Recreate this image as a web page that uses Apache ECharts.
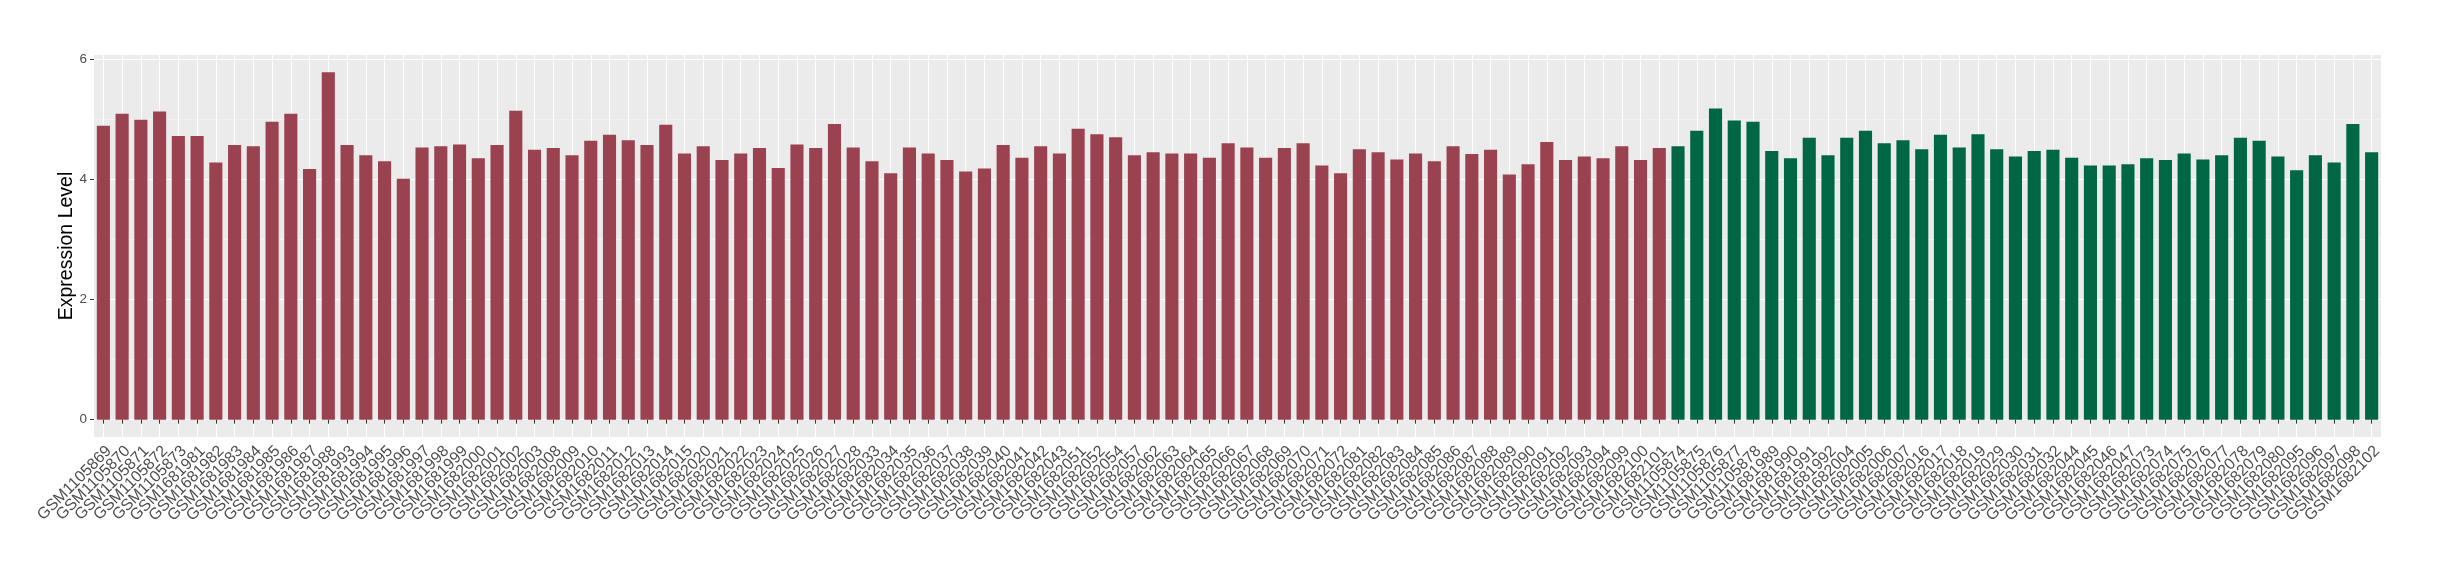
<!DOCTYPE html>
<html>
<head>
<meta charset="utf-8">
<script src="https://cdn.jsdelivr.net/npm/echarts@6/dist/echarts.min.js"></script>
<style>
  html, body { margin: 0; padding: 0; background: #fff; }
  #chart { width: 2440px; height: 580px; }
</style>
</head>
<body>
<div id="chart"></div>
<script>
// group 1 (red)
const redSamples = [
  'GSM1105869','GSM1105870','GSM1105871','GSM1105872','GSM1105873','GSM1681981','GSM1681982','GSM1681983',
  'GSM1681984','GSM1681985','GSM1681986','GSM1681987','GSM1681988','GSM1681993','GSM1681994','GSM1681995',
  'GSM1681996','GSM1681997','GSM1681998','GSM1681999','GSM1682000','GSM1682001','GSM1682002','GSM1682003',
  'GSM1682008','GSM1682009','GSM1682010','GSM1682011','GSM1682012','GSM1682013','GSM1682014','GSM1682015',
  'GSM1682020','GSM1682021','GSM1682022','GSM1682023','GSM1682024','GSM1682025','GSM1682026','GSM1682027',
  'GSM1682028','GSM1682033','GSM1682034','GSM1682035','GSM1682036','GSM1682037','GSM1682038','GSM1682039',
  'GSM1682040','GSM1682041','GSM1682042','GSM1682043','GSM1682051','GSM1682052','GSM1682054','GSM1682057',
  'GSM1682062','GSM1682063','GSM1682064','GSM1682065','GSM1682066','GSM1682067','GSM1682068','GSM1682069',
  'GSM1682070','GSM1682071','GSM1682072','GSM1682081','GSM1682082','GSM1682083','GSM1682084','GSM1682085',
  'GSM1682086','GSM1682087','GSM1682088','GSM1682089','GSM1682090','GSM1682091','GSM1682092','GSM1682093',
  'GSM1682094','GSM1682099','GSM1682100','GSM1682101'
];
const redValues = [
  4.89, 5.09, 4.99, 5.13, 4.72, 4.72, 4.28, 4.57,
  4.55, 4.96, 5.09, 4.17, 5.78, 4.57, 4.40, 4.30,
  4.01, 4.53, 4.55, 4.58, 4.35, 4.57, 5.14, 4.49,
  4.52, 4.40, 4.64, 4.74, 4.65, 4.57, 4.91, 4.43,
  4.55, 4.32, 4.43, 4.52, 4.19, 4.58, 4.52, 4.92,
  4.53, 4.30, 4.10, 4.53, 4.43, 4.32, 4.13, 4.18,
  4.57, 4.36, 4.55, 4.43, 4.84, 4.75, 4.70, 4.40,
  4.45, 4.43, 4.43, 4.36, 4.60, 4.53, 4.36, 4.52,
  4.60, 4.23, 4.10, 4.50, 4.45, 4.33, 4.43, 4.30,
  4.55, 4.42, 4.49, 4.08, 4.25, 4.62, 4.32, 4.38,
  4.35, 4.55, 4.32, 4.52
];
// group 2 (green)
const greenSamples = [
  'GSM1105874','GSM1105875','GSM1105876','GSM1105877','GSM1105878','GSM1681989','GSM1681990','GSM1681991',
  'GSM1681992','GSM1682004','GSM1682005','GSM1682006','GSM1682007','GSM1682016','GSM1682017','GSM1682018',
  'GSM1682019','GSM1682029','GSM1682030','GSM1682031','GSM1682032','GSM1682044','GSM1682045','GSM1682046',
  'GSM1682047','GSM1682073','GSM1682074','GSM1682075','GSM1682076','GSM1682077','GSM1682078','GSM1682079',
  'GSM1682080','GSM1682095','GSM1682096','GSM1682097','GSM1682098','GSM1682102'
];
const greenValues = [
  4.55, 4.81, 5.18, 4.98, 4.96, 4.47, 4.35, 4.69,
  4.40, 4.69, 4.81, 4.60, 4.65, 4.50, 4.74, 4.53,
  4.75, 4.50, 4.38, 4.47, 4.49, 4.36, 4.23, 4.23,
  4.25, 4.35, 4.32, 4.43, 4.33, 4.40, 4.69, 4.64,
  4.38, 4.15, 4.40, 4.28, 4.92, 4.45
];
const yMajorTicks = [0, 2, 4, 6];
const yMinorTicks = [1, 3, 5];

const redColor = '#9B4251';
const greenColor = '#006745';

const categories = redSamples.concat(greenSamples);
const barData = redValues.map(v => ({ value: v, itemStyle: { color: redColor } }))
  .concat(greenValues.map(v => ({ value: v, itemStyle: { color: greenColor } })));

// ggplot style 5% expansion
const allValues = redValues.concat(greenValues);
const dataMax = Math.max(...allValues);
const yMin = -0.05 * dataMax;
const yMax = dataMax * 1.05;

const font = 'Liberation Sans, Arial, Helvetica, sans-serif';

let chart = echarts.init(document.getElementById('chart'));
let option = {
  backgroundColor: '#ffffff',
  animation: false,
  grid: {
    left: 94,
    right: 59,
    top: 55,
    bottom: 143,
    show: true,
    backgroundColor: '#EBEBEB',
    borderWidth: 0
  },
  xAxis: {
    type: 'category',
    data: categories,
    boundaryGap: true,
    axisLine: { show: false },
    axisTick: {
      show: true,
      alignWithLabel: true,
      interval: 0,
      length: 4,
      lineStyle: { color: '#333333', width: 1 }
    },
    splitLine: {
      show: true,
      alignWithLabel: true,
      interval: 0,
      lineStyle: { color: '#ffffff', width: 1 }
    },
    axisLabel: {
      interval: 0,
      rotate: 45,
      margin: 6,
      verticalAlign: 'top',
      color: '#4D4D4D',
      fontSize: 16,
      fontFamily: font
    }
  },
  yAxis: [
    {
      type: 'value',
      min: yMin,
      max: yMax,
      name: 'Expression Level',
      nameLocation: 'middle',
      nameGap: 17,
      nameMoveOverlap: false,
      nameTextStyle: { color: '#000000', fontSize: 19.5, fontFamily: font },
      axisLine: { show: false },
      axisTick: {
        show: true,
        length: 4,
        customValues: yMajorTicks,
        lineStyle: { color: '#333333', width: 1 }
      },
      axisLabel: {
        customValues: yMajorTicks,
        margin: 7,
        color: '#4D4D4D',
        fontSize: 13.5,
        fontFamily: font
      },
      splitLine: { show: true, lineStyle: { color: '#ffffff', width: 1.1 } }
    },
    {
      type: 'value',
      min: yMin,
      max: yMax,
      position: 'left',
      axisLine: { show: false },
      axisTick: { show: false, customValues: yMinorTicks },
      axisLabel: { show: false, customValues: yMinorTicks },
      splitLine: { show: true, lineStyle: { color: '#F7F7F7', width: 0.6 } }
    }
  ],
  series: [
    {
      type: 'bar',
      data: barData,
      barWidth: '70%',
      yAxisIndex: 0
    }
  ]
};
chart.setOption(option);
</script>
</body>
</html>
